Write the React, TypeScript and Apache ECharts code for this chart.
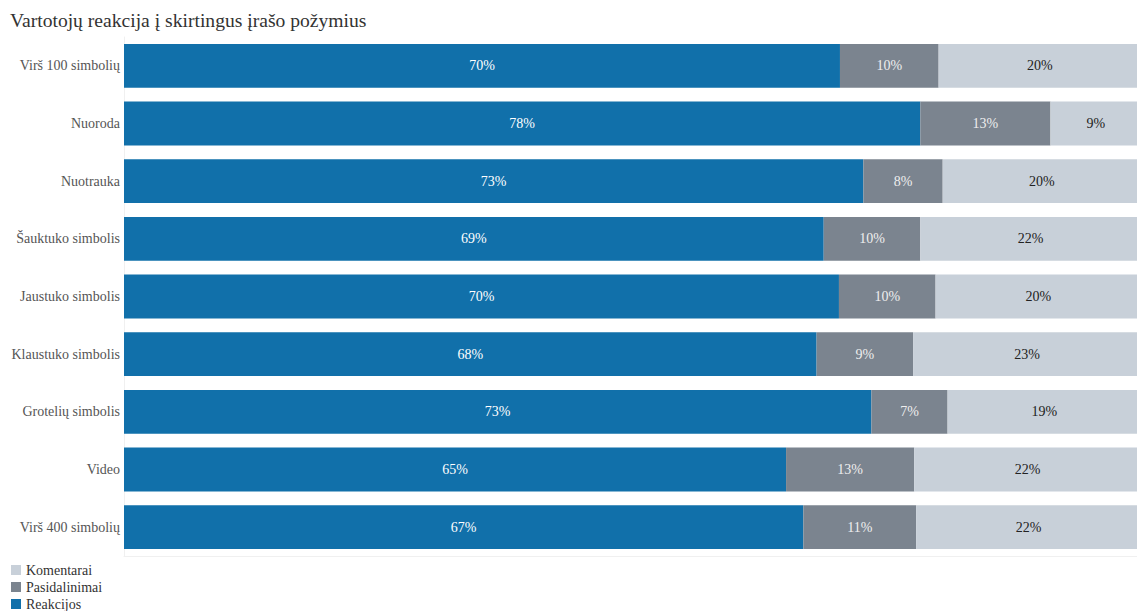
import React, { useEffect, useRef } from "react";
import * as echarts from "echarts";

const titleText = "Vartotojų reakcija į skirtingus įrašo požymius";
const categories = [
  "Virš 100 simbolių",
  "Nuoroda",
  "Nuotrauka",
  "Šauktuko simbolis",
  "Jaustuko simbolis",
  "Klaustuko simbolis",
  "Grotelių simbolis",
  "Video",
  "Virš 400 simbolių",
];
const reakcijos = [70.4, 78.3, 72.7, 68.8, 70.3, 68.1, 73.49, 65.1, 66.8];
const pasidalinimai = [9.7, 12.8, 7.8, 9.5, 9.5, 9.49, 7.49, 12.6, 11.1];
const komentarai = [19.9, 8.9, 19.5, 21.7, 20.2, 22.51, 19.02, 22.3, 22.1];
const seriesNames = ["Reakcijos", "Pasidalinimai", "Komentarai"];
const legendOrder = ["Komentarai", "Pasidalinimai", "Reakcijos"];
const colors = ["#1170aa", "#7b848f", "#c8d0d9"];
const labelColors = ["#ffffff", "#eeeeee", "#222222"];

const FONT = "Liberation Serif";

export default function App() {
  const ref = useRef<HTMLDivElement>(null);
  useEffect(() => {
    if (!ref.current) return;
    const chart = echarts.init(ref.current, undefined, { renderer: "svg" });
    const dataSets = [reakcijos, pasidalinimai, komentarai];
    chart.setOption({
      animation: false,
      textStyle: { fontFamily: FONT },
      title: {
        text: titleText,
        left: 5,
        top: 5,
        textStyle: { fontFamily: FONT, fontSize: 19.6, fontWeight: "normal", color: "#333" },
      },
      legend: {
        orient: "vertical",
        left: 11,
        top: 563,
        padding: 0,
        itemGap: 3,
        itemWidth: 10,
        itemHeight: 10,
        icon: "rect",
        data: legendOrder,
        textStyle: { fontFamily: FONT, fontSize: 14, color: "#333" },
      },
      grid: { left: 124, right: 4, top: 37, height: 519, containLabel: false },
      xAxis: {
        type: "value",
        min: 0,
        max: 100,
        axisLabel: { show: false },
        axisTick: { show: false },
        splitLine: { show: false },
        axisLine: { show: true, lineStyle: { color: "#f0f0f0" } },
      },
      yAxis: {
        type: "category",
        data: categories,
        inverse: true,
        axisTick: { show: false },
        axisLine: { show: true, lineStyle: { color: "#f0f0f0" } },
        axisLabel: { fontFamily: FONT, fontSize: 14, color: "#555", margin: 4 },
      },
      series: seriesNames.map((name, i) => ({
        name,
        type: "bar",
        stack: "total",
        barCategoryGap: "24%",
        data: dataSets[i],
        itemStyle: { color: colors[i] },
        label: {
          show: true,
          position: "inside",
          fontFamily: FONT,
          fontSize: 14,
          color: labelColors[i],
          formatter: (p: any) => Math.round(p.value) + "%",
        },
      })),
    });
    return () => chart.dispose();
  }, []);
  return (
    <div
      ref={ref}
      style={{ position: "fixed", left: 0, top: 0, width: 1145, height: 640, background: "#fff" }}
    />
  );
}
